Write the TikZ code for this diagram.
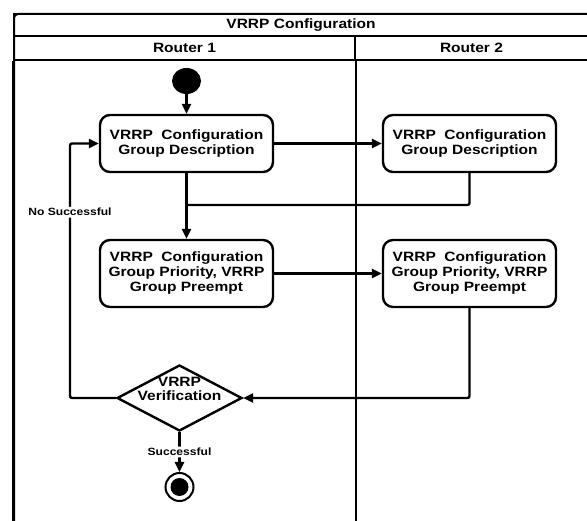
\documentclass[tikz,border=0pt]{standalone}
\usepackage{fontspec}
\setmainfont{Liberation Sans}[FakeStretch=1.15]
\usetikzlibrary{positioning, arrows.meta, shapes.geometric}

\tikzset{
  activity/.style={draw, line width=2.4pt, rounded corners=10pt, minimum width=173pt,
    align=center, font=\fontsize{13.5}{15}\selectfont\bfseries, inner sep=2pt},
  decision/.style={draw, diamond, line width=2.4pt, minimum width=125pt, minimum height=66pt, inner sep=0pt},
  lanehead/.style={draw, line width=2pt, font=\fontsize{13.5}{15}\selectfont\bfseries, inner sep=0pt},
  flow/.style={line width=2.4pt, rounded corners=2pt},
  lbl/.style={fill=white, inner sep=1.5pt, font=\fontsize{10.5}{12}\selectfont\bfseries},
}

\begin{document}
\begin{tikzpicture}[x=1pt,y=-1pt,>={Triangle[length=10pt,width=9pt]},node distance=130pt,on grid]
    \useasboundingbox (0,0) rectangle (587,521);
    % swimlanes
    \draw[line width=2pt, rounded corners=4pt] (14,540) -- (14,14) -- (600,14);
    \node[lanehead, minimum width=586pt, minimum height=22pt] (pool) at (307,25) {\hspace*{-12pt}VRRP Configuration};
    \node[lanehead, minimum width=341pt, minimum height=24pt] (lane1) at (184.5,48) {Router 1};
    \node[lanehead, minimum width=245pt, minimum height=24pt] (lane2) at (477.5,48) {\hspace*{-12pt}Router 2};
    \draw[line width=2pt] (lane1.south west) -- ++(0,480);
    \draw[line width=2pt] (lane1.south east) -- ++(0,480);

    % activities
    \node[activity, minimum height=57pt] (desc1) at (186.5,143.5) {VRRP\ \ Configuration\\Group Description};
    \node[activity, minimum height=57pt] (desc2) [right=283pt of desc1] {VRRP\ \ Configuration\\Group Description};
    \node[activity, minimum height=67pt] (prio1) [below=of desc1] {VRRP\ \ Configuration\\Group Priority, VRRP\\Group Preempt};
    \node[activity, minimum height=67pt] (prio2) [right=283pt of prio1] {VRRP\ \ Configuration\\Group Priority, VRRP\\Group Preempt};
    \node[fill, ellipse, minimum width=29pt, minimum height=26pt, inner sep=0pt] (start) [above=62.5pt of desc1] {};
    \node[decision] (verify) at (179.5,398) {};
    \node[font=\fontsize{13.5}{14}\selectfont\bfseries, align=center, inner sep=0pt] (verifytxt) [above=9pt of verify] {VRRP\\Verification};
    \node[draw, circle, line width=2pt, minimum size=28pt, inner sep=0pt] (stop) [below=89pt of verify] {};
    \node[fill, circle, minimum size=18pt, inner sep=0pt] (stopdot) at (stop) {};

    \coordinate (join) at (desc1 |- 0,205);
    \coordinate (back) at (70,398);

    % connectors
    \draw[flow,->] (start) -- (desc1);
    \draw[flow,->] (desc1) -- (desc2);
    \draw[flow,->] (desc1) -- (prio1);
    \draw[flow] (desc2.south) |- (join);
    \draw[flow,->] (prio1) -- (prio2);
    \draw[flow,->] (prio2.south) |- (verify.east);
    \draw[flow,->] (verify.west) -- (back) |- node[lbl, pos=0.365] (nosucc) {No Successful} (desc1.west);
    \draw[flow,->] (verify.south) -- node[lbl] (succ) {Successful} (stop);
  \end{tikzpicture}
\end{document}
